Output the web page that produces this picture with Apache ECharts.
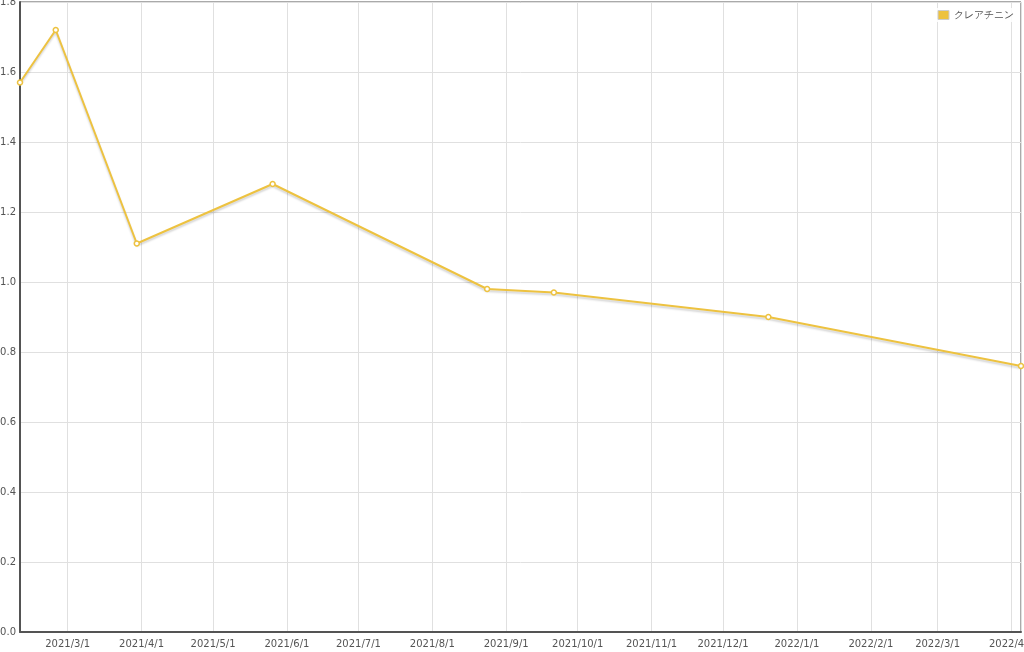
<!DOCTYPE html>
<html>
<head>
<meta charset="utf-8">
<script src="https://cdn.jsdelivr.net/npm/echarts@6/dist/echarts.min.js"></script>
<style>html,body{margin:0;padding:0;background:#fff}#c{width:1024px;height:652px}</style>
</head>
<body>
<div id="c"></div>
<script>
var seriesName = 'クレアチニン';
var dates = ['2021-02-09','2021-02-24','2021-03-30','2021-05-26','2021-08-24','2021-09-21','2021-12-20','2022-04-05'];
var values = [1.57, 1.72, 1.11, 1.28, 0.98, 0.97, 0.90, 0.76];
var yTicks = [0, 0.2, 0.4, 0.6, 0.8, 1.0, 1.2, 1.4, 1.6, 1.8];

var chart = echarts.init(document.getElementById('c'));
var data = dates.map(function (d, i) { return [d, values[i]]; });
var font = 'DejaVu Sans, Verdana, sans-serif';
chart.setOption({
  animation: false,
  grid: { left: 20, right: 3, top: 2, bottom: 20, show: true, borderColor: '#545454', borderWidth: 1,
    containLabel: false, outerBoundsMode: 'none' },
  legend: {
    data: [{ name: seriesName, itemStyle: { color: '#edc240', borderColor: '#cccccc', borderWidth: 1 } }],
    right: 8, top: 8, icon: 'rect', itemWidth: 11, itemHeight: 9, itemGap: 4,
    textStyle: { color: '#545454', fontSize: 10, fontFamily: font },
    backgroundColor: 'rgba(255,255,255,0.85)', padding: [2, 2, 2, 2]
  },
  xAxis: {
    type: 'time', min: 'dataMin', max: 'dataMax', splitNumber: 14,
    minInterval: 28 * 86400000, maxInterval: 31 * 86400000,
    axisLine: { show: true, lineStyle: { color: '#545454', width: 2 } },
    axisTick: { show: false },
    splitLine: { show: true, lineStyle: { color: '#e0e0e0', width: 1 } },
    axisLabel: {
      color: '#545454', fontSize: 10, fontFamily: font, margin: 7, hideOverlap: false,
      showMinLabel: false, showMaxLabel: false,
      formatter: function (v) {
        var d = new Date(v);
        if (d.getDate() !== 1) return '';
        return d.getFullYear() + '/' + (d.getMonth() + 1) + '/' + d.getDate();
      }
    }
  },
  yAxis: {
    type: 'value', min: yTicks[0], max: yTicks[yTicks.length - 1], interval: 0.2,
    axisLine: { show: true, lineStyle: { color: '#545454', width: 2 } },
    axisTick: { show: false },
    splitLine: { show: true, lineStyle: { color: '#e0e0e0', width: 1 } },
    axisLabel: { color: '#545454', fontSize: 10, fontFamily: font, margin: 4,
      formatter: function (v) { return v.toFixed(1); } }
  },
  series: [{
    name: seriesName, type: 'line', data: data,
    symbol: 'circle', symbolSize: 5, showSymbol: true,
    itemStyle: { color: '#fff', borderColor: '#edc240', borderWidth: 1.5 },
    lineStyle: { color: '#edc240', width: 2, shadowColor: 'rgba(0,0,0,0.18)', shadowBlur: 2, shadowOffsetY: 2 },
    clip: false
  }],
  color: ['#edc240']
});
</script>
</body>
</html>
